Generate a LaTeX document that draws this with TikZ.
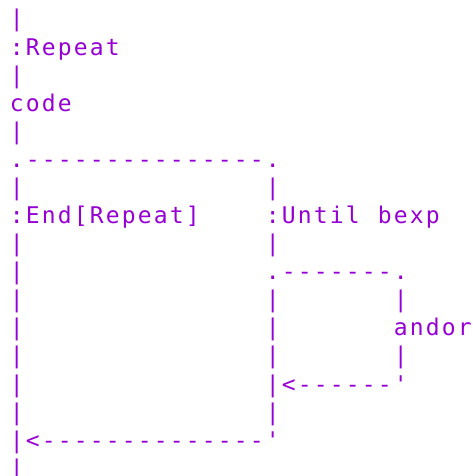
\documentclass[tikz,border=0pt]{standalone}
\usepackage{fontspec}
\setmonofont{DejaVu Sans Mono}
\usepackage{tikz}
\definecolor{asciiviolet}{RGB}{150,0,210}

% one character cell of the ascii chart
\newcommand{\glyphat}[3]{\node[glyph] (r#1c#2) at ({\firstcol+\cellw*#2},{\firstrow+\rowh*#1}) {#3};}

\ExplSyntaxOn
\NewDocumentCommand{\asciirow}{mmm}{
  \int_set:Nn \l_tmpa_int {#2}
  \str_map_inline:nn {#3}{
    \exp_args:NnV \glyphat {#1} \l_tmpa_int {##1}
    \int_incr:N \l_tmpa_int
  }
}
\ExplSyntaxOff

\begin{document}
\begin{tikzpicture}[x=1pt,y=-1pt]

\tikzset{glyph/.style={text=asciiviolet, font=\ttfamily\fontsize{23}{26}\selectfont,
inner sep=0pt, outer sep=0pt, anchor=base}}

\newcommand{\cellw}{16}
\newcommand{\rowh}{28.08}
\newcommand{\firstcol}{16.7}
\newcommand{\firstrow}{27}

\useasboundingbox (0,0) rectangle (472,476);

\asciirow{0}{0}{|}
\asciirow{1}{0}{:Repeat}
\asciirow{2}{0}{|}
\asciirow{3}{0}{code}
\asciirow{4}{0}{|}
\asciirow{5}{0}{.---------------.}

\asciirow{6}{0}{|}
\asciirow{6}{16}{|}
\asciirow{7}{0}{:End[Repeat]}
\asciirow{7}{16}{:Until}
\asciirow{7}{23}{bexp}
\asciirow{8}{0}{|}
\asciirow{8}{16}{|}

% inner loop
\asciirow{9}{0}{|}
\asciirow{9}{16}{.-------.}
\foreach \r in {10,12} {
  \asciirow{\r}{0}{|}
  \asciirow{\r}{16}{|}
  \asciirow{\r}{24}{|}
}
\asciirow{11}{0}{|}
\asciirow{11}{16}{|}
\asciirow{11}{24}{andor}
\asciirow{13}{0}{|}
\asciirow{13}{16}{|<------'}

\asciirow{14}{0}{|}
\asciirow{14}{16}{|}
\asciirow{15}{0}{|<--------------'}
\asciirow{16}{0}{|}

\end{tikzpicture}
\end{document}
